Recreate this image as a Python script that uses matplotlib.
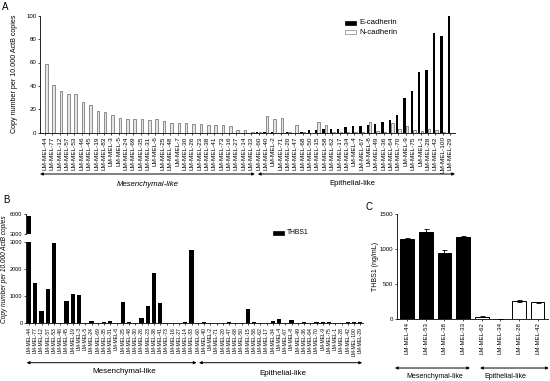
import matplotlib
matplotlib.use("Agg")
import matplotlib.pyplot as plt
from matplotlib.patches import Patch, Rectangle
import numpy as np

plt.rcParams["font.family"] = ["Liberation Sans", "DejaVu Sans"]
plt.rcParams["axes.linewidth"] = 0.6

# ── Dados ────────────────────────────────────────────────────────────────────
# Painel A: E-caderina / N-caderina (cópias por 10.000 ActB)
a_mes = ["44", "77", "12", "57", "53", "46", "45", "19", "83", "3", "5", "24", "69", "35",
         "31", "6", "25", "48", "7", "30", "26", "23", "38", "41", "73", "16", "27", "14", "33"]
a_epi = ["60", "40", "2", "71", "20", "47", "68", "50", "15", "58", "62", "17", "34", "4",
         "67", "8", "49", "36", "64", "70", "9", "75", "1", "28", "42", "100", "29"]
a_ncad = [58.5, 41, 36, 33.5, 33.5, 26, 24, 18.5, 18, 15, 12.5, 12, 11.5, 12,
          11, 11.5, 10, 8.5, 8, 8, 7.5, 7.5, 6.5, 7, 6.5, 5.5, 2, 2, 1,
          0.5, 14, 11.5, 12.3, 1, 6.5, 0.3, 0, 9, 7, 0.5, 0.5, 0.5, 0.5,
          0.5, 9.5, 1.5, 1, 8.5, 3.5, 6, 2, 1.5, 3, 2.5, 0.3, 0]
a_ecad = [0] * 29 + [
          0.5, 0.5, 0.3, 0, 0.5, 0, 1, 2, 2.5, 3, 3, 3.5, 4.5, 5.5,
          6, 6.5, 7.5, 9, 10.5, 15, 30, 36, 52, 54, 85, 83, 100]

# Painel B: THBS1 mRNA
b_mes = ["44", "77", "12", "57", "53", "46", "45", "19", "3", "5", "24", "69", "35", "31",
         "6", "25", "48", "30", "26", "23", "38", "41", "73", "16", "27", "14", "33"]
b_epi = a_epi
b_thbs1 = [5700, 1470, 465, 1250, 2940, 0, 830, 1065, 1030, 10, 85, 10, 50, 85,
           5, 795, 50, 5, 185, 625, 1850, 760, 0, 10, 10, 45, 2690,
           15, 50, 0, 0, 15, 40, 0, 0, 540, 60, 0, 5, 75, 160,
           5, 110, 5, 50, 20, 40, 60, 50, 10, 20, 45, 40, 30]

# Painel C: THBS1 proteína (ng/mL)
c_lines = ["44", "53", "38", "33", "62", "34", "28", "42"]
c_thbs1 = [1137, 1247, 946, 1166, 29, 0, 254, 235]
c_err = [20, 35, 40, 20, 5, 0, 8, 8]
c_n_mes = 4

W, H = 550, 381


def box(l, t, r, b):
    return [l / W, 1 - b / H, (r - l) / W, (b - t) / H]


def style(ax, ysize):
    for s in ("top", "right"):
        ax.spines[s].set_visible(False)
    ax.tick_params(length=1.6, width=0.5, pad=1)
    ax.tick_params(axis="y", labelsize=ysize)


def arrow(ax, x0, x1, y):
    ax.annotate("", xy=(x1, y), xytext=(x0, y), xycoords=ax.get_xaxis_transform(),
                annotation_clip=False,
                arrowprops=dict(arrowstyle="<|-|>", lw=0.7, color="black",
                                mutation_scale=4, shrinkA=0, shrinkB=0))


def legend_item(x, y, label, face, edge, size):
    # marcador retangular + texto, em pixels da figura
    fig.patches.append(Rectangle((x / W, 1 - (y + 1.6) / H), 11 / W, 3.2 / H,
                                 facecolor=face, edgecolor=edge, linewidth=0.5,
                                 transform=fig.transFigure, figure=fig))
    fig.text((x + 14) / W, 1 - y / H, label, ha="left", va="center", fontsize=size)


fig = plt.figure(figsize=(5.5, 3.81), dpi=100)

# ── Painel A ─────────────────────────────────────────────────────────────────
a_labels = ["LM-MEL-" + s for s in a_mes + a_epi]
xa = np.arange(len(a_labels))
ax = fig.add_axes(box(40, 15.7, 455, 132.7))
ax.bar(xa - 0.17, a_ecad, width=0.32, color="black", linewidth=0)
ax.bar(xa + 0.17, a_ncad, width=0.34, color="#e6e6e6", edgecolor="#707070", linewidth=0.55)
ax.set_xlim(-0.68, 55.68)
ax.set_ylim(0, 100)
ax.set_yticks(range(0, 101, 20))
ax.set_xticks(xa)
ax.set_xticklabels(a_labels, rotation=90, fontsize=4.6)
style(ax, 4.4)
ax.set_ylabel("Copy number per 10.000 ActB copies", fontsize=5.1)
ax.yaxis.set_label_coords(-0.053, 0.5)
legend_item(345, 23, "E-cadherin", "black", "black", 5.6)
legend_item(345, 32, "N-cadherin", "white", "#808080", 5.6)
arrow(ax, -0.68, 28.5, -0.353)
arrow(ax, 28.9, 55.68, -0.353)
ax.text(14.0, -0.447, "Mesenchymal-like", transform=ax.get_xaxis_transform(),
        ha="center", va="center", fontsize=5.6, style="italic")
ax.text(41.8, -0.43, "Epithelial-like", transform=ax.get_xaxis_transform(),
        ha="center", va="center", fontsize=5.6)
fig.text(2 / W, 1 - 2 / H, "A", ha="left", va="top", fontsize=7)

# ── Painel B (eixo y quebrado) ───────────────────────────────────────────────
b_labels = ["LM-MEL-" + s for s in b_mes + b_epi]
xb = np.arange(len(b_labels))
axb = fig.add_axes(box(26, 241.7, 363, 323.3))
axu = fig.add_axes(box(26, 214.3, 363, 234.3))
for a in (axb, axu):
    a.bar(xb, b_thbs1, width=0.7, color="black", linewidth=0)
    a.set_xlim(-0.48, 53.44)
    style(a, 4.0)
axb.set_ylim(0, 3000)
axb.set_yticks([0, 1000, 2000, 3000])
axb.set_xticks(xb)
axb.set_xticklabels(b_labels, rotation=90, fontsize=3.6)
axu.set_ylim(3000, 6000)
axu.set_yticks([3000, 6000])
axu.spines["bottom"].set_visible(False)
axu.set_xticks([])
fig.text(5 / W, 1 - 268.7 / H, "Copy number per 10.000 ActB copies", rotation=90,
         ha="center", va="center", fontsize=4.7, style="italic")
legend_item(273, 233, "THBS1", "black", "black", 4.9)
arrow(axb, -0.37, 26.8, -0.483)
arrow(axb, 27.2, 53.3, -0.483)
axb.text(15.2, -0.59, "Mesenchymal-like", transform=axb.get_xaxis_transform(),
         ha="center", va="center", fontsize=5.8)
axb.text(40.6, -0.61, "Epithelial-like", transform=axb.get_xaxis_transform(),
         ha="center", va="center", fontsize=5.8)
fig.text(3 / W, 1 - 195 / H, "B", ha="left", va="top", fontsize=7)

# ── Painel C ─────────────────────────────────────────────────────────────────
xc = np.arange(len(c_lines))
axc = fig.add_axes(box(397, 214, 548, 318.7))
face = ["black"] * c_n_mes + ["white"] * (len(c_lines) - c_n_mes)
axc.bar(xc, c_thbs1, width=0.73, color=face, edgecolor="black", linewidth=0.7,
        yerr=c_err, error_kw=dict(elinewidth=0.6, capsize=1.8, capthick=0.6))
axc.set_xlim(-0.55, 7.56)
axc.set_ylim(0, 1500)
axc.set_yticks([0, 500, 1000, 1500])
axc.set_xticks(xc)
axc.set_xticklabels(["LM-MEL-" + s for s in c_lines], rotation=90, fontsize=4.4)
style(axc, 4.4)
axc.set_ylabel("THBS1 (ng/mL)", fontsize=5)
axc.yaxis.set_label_coords(-0.12, 0.5)
arrow(axc, -0.66, 3.37, -0.471)
arrow(axc, 3.91, 7.6, -0.471)
axc.text(1.5, -0.554, "Mesenchymal-like", transform=axc.get_xaxis_transform(),
         ha="center", va="center", fontsize=5)
axc.text(5.25, -0.554, "Epithelial-like", transform=axc.get_xaxis_transform(),
         ha="center", va="center", fontsize=5)
fig.text(366 / W, 1 - 202 / H, "C", ha="left", va="top", fontsize=7)

fig.savefig("out.png", dpi=100, facecolor="white")
plt.close(fig)
